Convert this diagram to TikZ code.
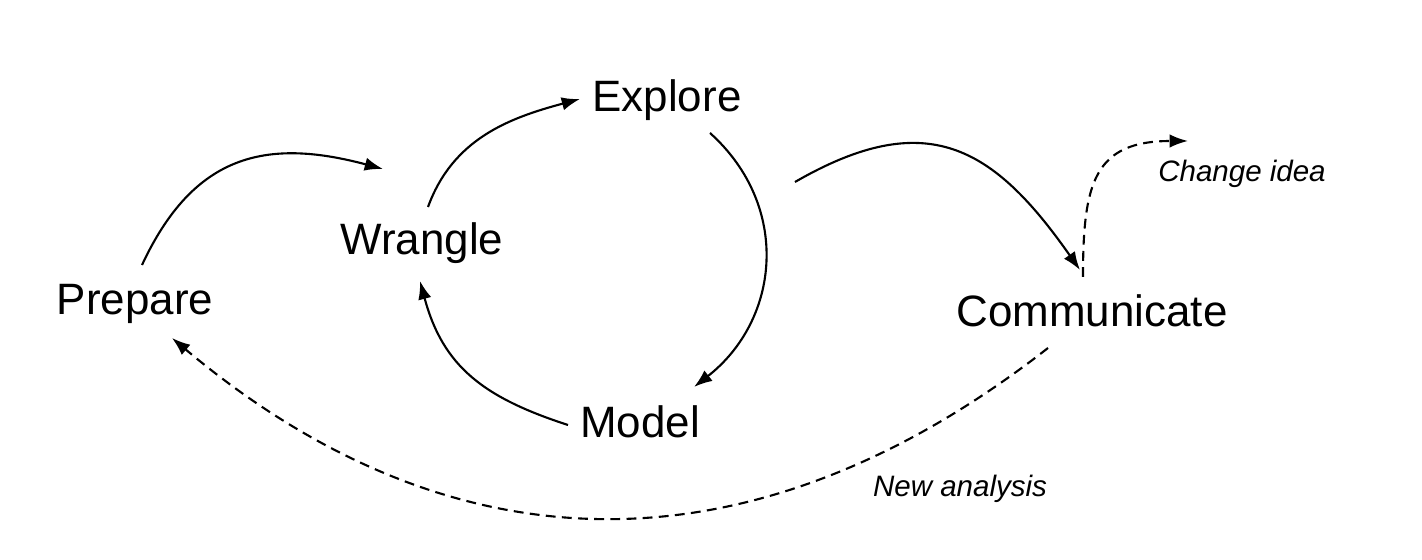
\documentclass[tikz,border=0pt]{standalone}
\usepackage{fontspec}
\setmainfont{Liberation Sans}
\usetikzlibrary{positioning,arrows.meta,calc}

\begin{document}
\begin{tikzpicture}[
    stage/.style={inner sep=0pt,anchor=base,font=\fontsize{12.5}{15}\selectfont},
    note/.style={inner sep=0pt,anchor=base,font=\fontsize{8.4}{10}\selectfont\itshape},
    flow/.style={line width=0.6pt,-{Latex[length=5.2pt,width=3.8pt]}},
    back/.style={flow,dash pattern=on 2.8pt off 1.8pt}
]
    % Page
    \useasboundingbox (0,0) rectangle (14.22,5.6);

    % Stages
    \node[stage] (prepare) at (1.35,2.45) {Prepare};
    \node[stage] (wrangle) at (4.22,3.05) {Wrangle};
    \node[stage] (explore) at (6.67,4.48) {Explore};
    \node[stage] (model) at (6.40,1.22) {Model};
    \node[stage] (communicate) at (10.92,2.33) {Communicate};

    % Notes
    \node[note] (change) at (12.42,3.78) {Change idea};
    \node[note] (newanalysis) at (9.60,0.63) {New analysis};

    % Main loop
    \draw[flow] ([shift={(0.07,0.50)}]prepare.base) to[out=65,in=165,looseness=1.2] ([shift={(-0.39,0.86)}]wrangle.base);
    \draw[flow] ([shift={(0.06,0.48)}]wrangle.base) to[out=70,in=195] ([shift={(-0.87,0.13)}]explore.base);
    \draw[flow] ([shift={(0.43,-0.21)}]explore.base) to[out=-42,in=38,looseness=1.1] ([shift={(0.54,0.51)}]model.base);
    \draw[flow] ([shift={(-0.72,0.13)}]model.base) to[out=162,in=-75,looseness=1.1] ([shift={(-0.02,-0.26)}]wrangle.base);
    \draw[flow] ([shift={(1.28,-0.70)}]explore.base) to[out=30,in=125,looseness=1.3] ([shift={(-0.12,0.57)}]communicate.base);

    % Way back
    \draw[back] ([shift={(-0.09,0.50)}]communicate.base) to[out=90,in=180,looseness=1.4] ([shift={(-0.54,0.41)}]change.base);
    \draw[back] ([shift={(-0.44,-0.21)}]communicate.base) to[out=218,in=-40,looseness=1.08] ([shift={(0.37,-0.23)}]prepare.base);
\end{tikzpicture}
\end{document}
